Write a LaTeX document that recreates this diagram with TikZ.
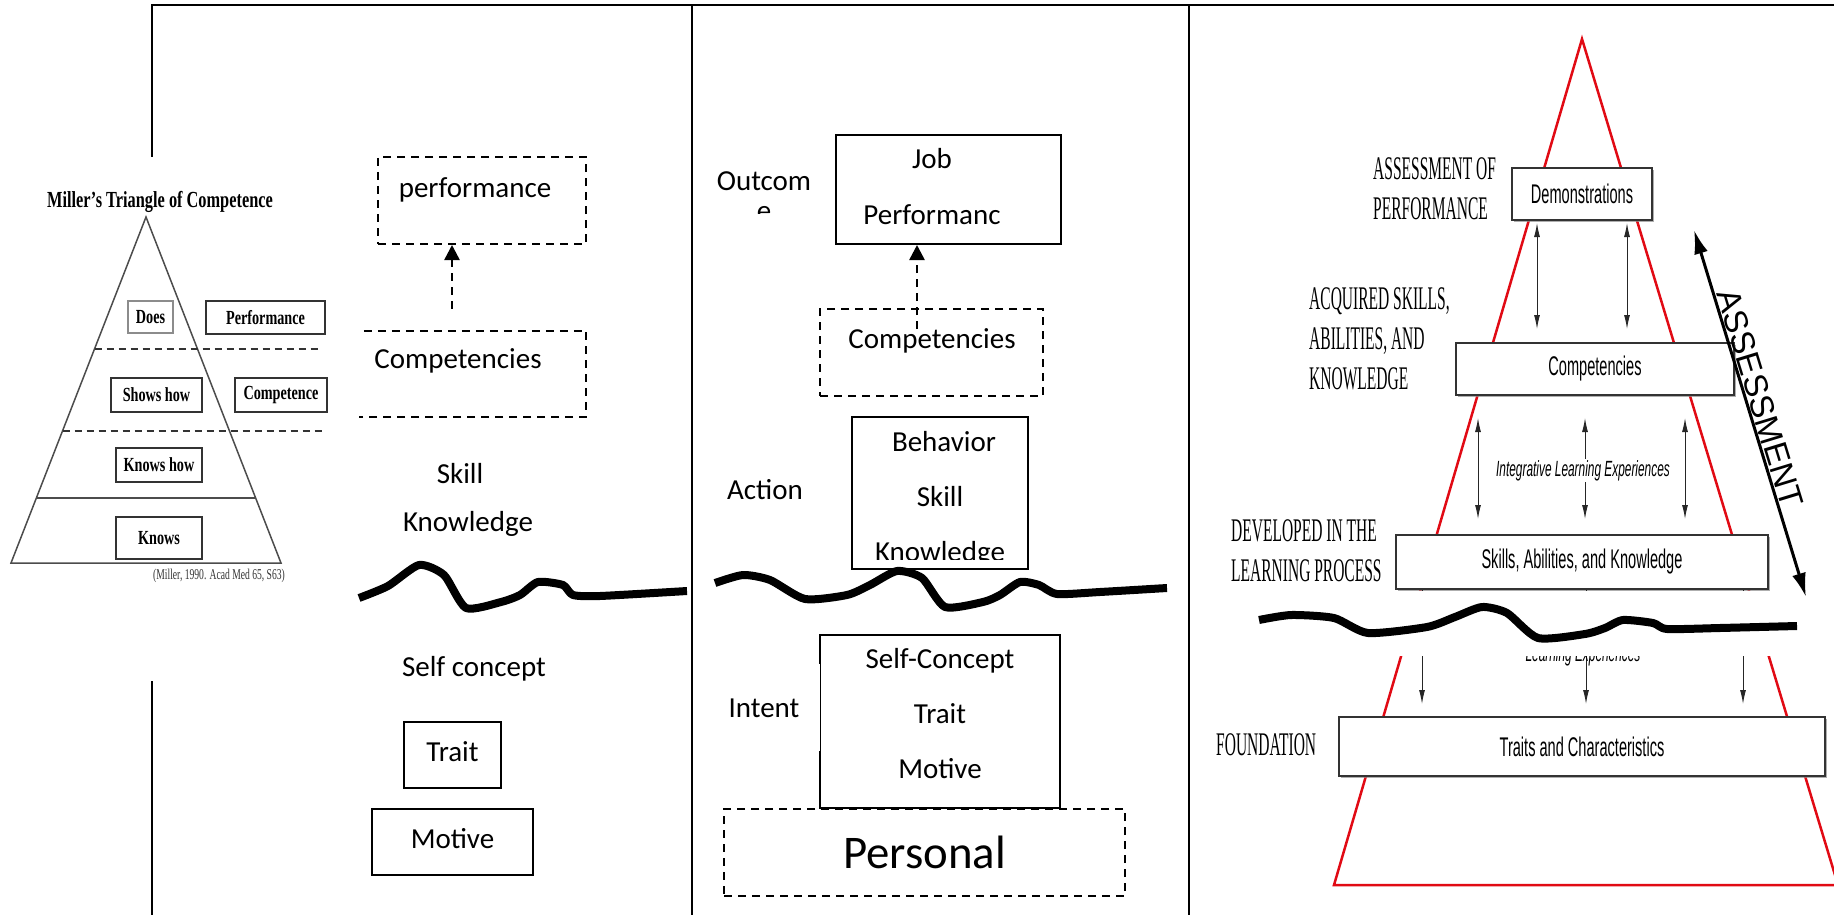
\documentclass[tikz,border=0pt]{standalone}
\usepackage{fontspec}
\usetikzlibrary{arrows.meta,shadows}
\newfontfamily\carlito{Carlito}
\newfontfamily\millerrm{Liberation Serif}[FakeStretch=0.71]
\newfontfamily\millercap{Liberation Serif}[FakeStretch=0.64]
\newfontfamily\levelrm{Liberation Serif}[FakeStretch=0.47]
\newfontfamily\narrowsf{Liberation Sans}[FakeStretch=0.54]
\newfontfamily\plainsf{Liberation Sans}
\definecolor{pyramidred}{RGB}{225,10,20}

\tikzset{
	frameline/.style={line width=2pt},
	calfont/.style={font=\carlito\fontsize{29}{30}\selectfont},
	cal/.style={calfont, inner sep=0pt},
	calbox/.style={calfont, draw, line width=2pt, inner sep=0pt},
	dashline/.style={line width=2pt, dash pattern=on 8pt off 6pt},
	dashbox/.style={calbox, dash pattern=on 8pt off 6pt},
	dasharrow/.style={line width=2.5pt, dash pattern=on 8pt off 6pt, -{Triangle[width=15pt,length=15pt]}},
	waveline/.style={line width=8pt, line join=round},
	millerline/.style={draw=black!70, line width=1.5pt},
	millerdash/.style={draw=black!80, line width=1.5pt, dash pattern=on 7pt off 5pt},
	millerbox/.style={draw=black!80, line width=1.5pt, inner sep=0pt, font=\millerrm\bfseries\fontsize{20}{24}\selectfont},
	redline/.style={draw=pyramidred, line width=2.5pt, line join=miter},
	levelbox/.style={draw=black!80, fill=white, line width=2pt, inner sep=0pt, font=\narrowsf\fontsize{27}{30}\selectfont, drop shadow={shadow xshift=1.5pt, shadow yshift=-2pt, fill=black!45, opacity=0.7}},
	leveltext/.style={font=\levelrm\fontsize{33}{40}\selectfont, align=left, inner sep=0pt, anchor=north west},
	smallit/.style={font=\narrowsf\itshape\fontsize{22}{26}\selectfont, inner sep=0pt},
	thinarrow/.style={draw=black!85, line width=1pt, {Latex[width=6pt,length=14pt]}-{Latex[width=6pt,length=14pt]}},
	downarrow/.style={draw=black!85, line width=1pt, -{Latex[width=6pt,length=14pt]}},
	bigarrow/.style={line width=3pt, {Latex[length=24pt,width=14pt]}-{Latex[length=24pt,width=14pt]}}
}

\begin{document}
\begin{tikzpicture}[x=1pt,y=-1pt]
	\useasboundingbox (0,0) rectangle (1834,915);
	
	%%%%% FRAME %%%%%
	\draw[frameline] (152,157) -- (152,5) -- (1834,5);
	\draw[frameline] (152,681) -- (152,915);
	\draw[frameline] (692,5) -- (692,915);
	\draw[frameline] (1189,5) -- (1189,915);
	
	%%%%% MILLER %%%%%
	\node[font=\millerrm\bfseries\fontsize{23}{26}\selectfont, inner sep=0pt, anchor=base] (millertitle) at (160,207) {Miller’s Triangle of Competence};
	\draw[millerline] (146,217) -- (281,563) -- (11,563) -- cycle;
	\draw[millerdash] (94.5,349) -- (322,349);
	\draw[millerdash] (62.5,431) -- (322,431);
	\draw[millerline] (36.4,498) -- (255.6,498);
	\node[millerbox, draw=black!45, minimum width=45, minimum height=32] (does) at (150.5,317) {Does};
	\node[millerbox, minimum width=119, minimum height=33] (perfm) at (265.5,317.5) {Performance};
	\node[millerbox, minimum width=91, minimum height=34] (shows) at (156.5,395) {Shows how};
	\node[millerbox, minimum width=92, minimum height=34] (compm) at (281,395) {Competence};
	\node[millerbox, minimum width=86, minimum height=34] (knowshow) at (159,465) {Knows how};
	\node[millerbox, minimum width=86, minimum height=42] (knows) at (159,538) {Knows};
	\node[font=\millercap\fontsize{15}{18}\selectfont, text=black!80, inner sep=0pt, anchor=base east] (millercite) at (285,579) {(Miller, 1990. Acad Med 65, S63)};
	
	%%%%% SECOND PANEL %%%%%
	\node[dashbox, minimum width=208, minimum height=87] (perf) at (482,200.5) {};
	\node[cal, anchor=base] (perftext) at (475,197) {performance};
	\node[minimum width=222, minimum height=86, inner sep=0pt] (comp1) at (475,374) {};
	\draw[dashline] (comp1.north west) -- (comp1.north east) -- (comp1.south east) -- ([xshift=-5pt]comp1.south west);
	\node[cal, anchor=base] (comp1text) at (458,368) {Competencies};
	\draw[dasharrow] ([xshift=-23pt,yshift=22pt]comp1.north) -- ([xshift=-30pt]perf.south);
	\node[cal, anchor=base] (skill1) at (460,483) {Skill};
	\node[cal, anchor=base] (know1) at (468,531) {Knowledge};
	\draw[waveline] plot[smooth, tension=0.4] coordinates {(359,598) (388,586) (419,565) (444,575) (466,608) (501,602) (520,595) (538,582) (563,585) (573,595) (600,596) (687,591)};
	\node[cal, anchor=base] (self1) at (474,676) {Self concept};
	\node[calbox, text depth=7pt, minimum width=97, minimum height=66] (trait1) at (452.5,755) {Trait};
	\node[calbox, text depth=7pt, minimum width=161, minimum height=66] (motive1) at (452.5,842) {Motive};
	
	%%%%% THIRD PANEL %%%%%
	\node[calbox, minimum width=225, minimum height=109] (job) at (948.5,189.5) {};
	\node[cal, anchor=base] (jobtext) at (932,168) {Job};
	\node[cal, anchor=base] (jobtext2) at (932,224) {Performanc};
	\begin{scope}
		\clip (700,157) rectangle (834,213);
		\node[cal, align=center, anchor=north] (outcome) at (764,171) {Outcom\\e};
	\end{scope}
	\node[dashbox, minimum width=223, minimum height=87] (comp2) at (931.5,352.5) {};
	\node[cal, anchor=base] (comp2text) at (932,348) {Competencies};
	\draw[dasharrow] ([xshift=-14.5pt,yshift=-21pt]comp2.north) -- ([xshift=-31.5pt]job.south);
	
	\node[calbox, minimum width=176, minimum height=152] (behav) at (940,493) {};
	\node[cal, anchor=base] (behavtext) at (944,451) {Behavior};
	\node[cal, anchor=base] (skill2) at (940,506) {Skill};
	\begin{scope}
		\clip (853,417) rectangle (1027,559);
		\node[cal, anchor=base] (know2) at (940,561) {Knowledge};
	\end{scope}
	\node[cal, anchor=base] (action) at (765,499) {Action};
	\draw[waveline] plot[smooth, tension=0.4] coordinates {(715,583) (743,575) (770,580) (805,599) (847,595) (870,585) (897,571) (922,578) (945,607) (983,602) (1000,595) (1020,582) (1039,585) (1057,594) (1100,592) (1167,588)};
	
	\node[calbox, minimum width=240, minimum height=173] (selfbox) at (940,721.5) {};
	\node[cal, anchor=base] (selftext) at (940,668) {Self-Concept};
	\node[cal, anchor=base] (trait2) at (940,723) {Trait};
	\node[cal, anchor=base] (motive2) at (940,778) {Motive};
	\node[cal, fill=white, minimum width=112, minimum height=87, anchor=base] (intent) at (764,717) {Intent};
	\node[dashbox, font=\carlito\fontsize{46.8}{50}\selectfont, minimum width=401, minimum height=87] (personal) at (924.5,852.5) {Personal};
	
	%%%%% FOURTH PANEL %%%%%
	\draw[redline] (1582,39) -- (1838,885) -- (1334,885) -- cycle;
	
	\node[levelbox, minimum width=140, minimum height=52] (demo) at (1582,194) {Demonstrations};
	\node[levelbox, minimum width=278, minimum height=52] (comp3) at (1595,369) {Competencies};
	\node[levelbox, minimum width=372, minimum height=54] (skills) at (1582,562) {Skills, Abilities, and Knowledge};
	\node[levelbox, minimum width=486, minimum height=59] (traits) at (1582,746.5) {Traits and Characteristics};
	
	\foreach \dx in {-45,45}
		\draw[thinarrow, shorten <=2pt, shorten >=13pt] ([xshift=\dx pt]demo.south) -- ([xshift=\dx pt]demo.south |- comp3.north);
	\foreach \dx in {-104,3,103}
		\draw[thinarrow, shorten <=22pt, shorten >=15pt] ([xshift=\dx pt]skills.north |- comp3.south) -- ([xshift=\dx pt]skills.north);
	\foreach \dx in {-160,4,161}
		\draw[downarrow, shorten >=12pt] ([xshift=\dx pt]skills.south) -- ([xshift=\dx pt]skills.south |- traits.north);
	
	\node[smallit, fill=white, inner sep=1pt, anchor=base] (integr) at (1583,476) {Integrative Learning Experiences};
	\node[smallit, anchor=base] (learncut) at (1583,661) {Learning Experiences};
	
	\fill[white] (1252,591) rectangle (1800,656);
	\draw[waveline] plot[smooth, tension=0.4] coordinates {(1259,620) (1291,615) (1334,618) (1368,633) (1427,627) (1455,617) (1482,607) (1507,613) (1538,638) (1585,634) (1605,628) (1623,620) (1653,623) (1667,629) (1720,628) (1797,626)};
	
	\node[leveltext] (lab1) at (1373,157) {ASSESSMENT OF\\PERFORMANCE};
	\node[leveltext] (lab2) at (1309,287) {ACQUIRED SKILLS,\\ABILITIES, AND\\KNOWLEDGE};
	\node[leveltext] (lab3) at (1231,519) {DEVELOPED IN THE\\LEARNING PROCESS};
	\node[leveltext] (lab4) at (1216,733) {FOUNDATION};
	
	\coordinate (asstop) at (1694,230);
	\coordinate (assbot) at (1806,597);
	\draw[bigarrow] (asstop) -- node[sloped, pos=0.47, above, inner sep=1pt, font=\plainsf\fontsize{33}{40}\selectfont] (asstext) {ASSESSMENT} (assbot);
	
\end{tikzpicture}
\end{document}
